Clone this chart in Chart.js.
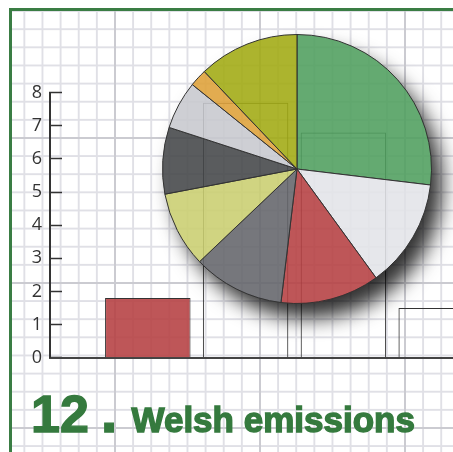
<!DOCTYPE html>
<html>
<head>
<meta charset="utf-8">
<script src="https://cdn.jsdelivr.net/npm/chart.js@4/dist/chart.umd.min.js"></script>
<style>
  html, body { margin: 0; padding: 0; width: 453px; height: 452px; overflow: hidden; background: #fff; }
  #grid {
    position: absolute; left: 12px; top: 11px; width: 441px; height: 441px;
    background-image:
      linear-gradient(to right, #cbcbd1 2px, transparent 2px),
      linear-gradient(to bottom, #cbcbd1 2px, transparent 2px),
      linear-gradient(to right, #e0e0e6 2px, transparent 2px),
      linear-gradient(to bottom, #e0e0e6 2px, transparent 2px);
    background-size: 145px 100%, 100% 145px, 18.125px 100%, 100% 18.125px;
    background-position: 102px 0, 0 126px, 11.4px 0, 0 17.25px;
  }
  #frame {
    position: absolute; left: 9px; top: 8px; width: 460px; height: 460px;
    border-left: 3px solid #3a7d44; border-top: 3px solid #3a7d44;
  }
  #bars { position: absolute; left: 0; top: 0; }
  #pie { position: absolute; left: 107px; top: -21px; }
  #title {
    position: absolute; left: 31px; top: 386px; display: flex; align-items: baseline;
    font-family: "Liberation Sans", Arial, sans-serif; font-weight: bold; color: #357a3e;
    line-height: 52px; white-space: nowrap; -webkit-text-stroke: 1.4px #357a3e;
  }
  #title .num { font-size: 52px; }
  #title .dot { font-size: 60px; margin-left: 12px; }
  #title .txt { font-size: 35px; margin-left: 14px; }
</style>
</head>
<body>
<div id="grid"></div>
<canvas id="bars" width="539" height="452"></canvas>
<canvas id="pie" width="380" height="380"></canvas>
<div id="title"><span class="num">12</span><span class="dot">.</span><span class="txt">Welsh emissions</span></div>
<div id="frame"></div>
<script>
// bar chart behind the pie
const barCategories = ["", "1", "2", "3", "4", ""];
const barValues = [null, 1.8, 7.7, 6.8, 1.5, null];
const barColors = ["transparent", "rgba(181,63,65,0.88)", "transparent", "transparent", "transparent", "transparent"];
const yTicks = [0, 1, 2, 3, 4, 5, 6, 7, 8];

// pie overlay
const pieLabels = ["Sector 1", "Sector 2", "Sector 3", "Sector 4", "Sector 5", "Sector 6", "Sector 7", "Sector 8", "Sector 9"];
const pieValues = [26.9, 13.1, 11.9, 11.0, 9.1, 8.0, 5.8, 2.1, 12.1];
const pieColors = [
  "rgba(79,158,93,0.88)",
  "rgba(227,228,232,0.88)",
  "rgba(181,63,65,0.88)",
  "rgba(99,100,106,0.88)",
  "rgba(202,206,111,0.88)",
  "rgba(67,69,72,0.88)",
  "rgba(199,200,206,0.88)",
  "rgba(222,161,56,0.88)",
  "rgba(161,170,17,0.88)",
];

new Chart(document.getElementById("bars"), {
  type: "bar",
  data: {
    labels: barCategories,
    datasets: [
      {
        data: barValues,
        backgroundColor: barColors,
        borderColor: "#333",
        borderWidth: 1,
        categoryPercentage: 1,
        barPercentage: 0.874,
      },
    ],
  },
  options: {
    responsive: false,
    animation: false,
    layout: { padding: { top: 92.7, bottom: 94.3, left: 0, right: 0 } },
    plugins: { legend: { display: false }, tooltip: { enabled: false } },
    scales: {
      x: {
        offset: false,
        ticks: { display: false },
        grid: { display: false, drawTicks: false },
        border: { display: true, color: "#444", width: 2 },
      },
      y: {
        min: 0,
        max: 8,
        afterBuildTicks: (scale) => {
          scale.ticks = yTicks.map((v) => ({ value: v }));
        },
        afterFit: (scale) => {
          scale.width = 50;
        },
        ticks: {
          padding: 20,
          color: "#333",
          font: { family: "Open Sans", size: 18 },
        },
        grid: {
          drawOnChartArea: false,
          tickLength: -12,
          tickColor: "#333",
          tickWidth: 1.5,
        },
        border: { display: true, color: "#333", width: 2 },
      },
    },
  },
});

// soft drop shadow outside the pie circle
const pieShadow = {
  id: "pieShadow",
  beforeDatasetsDraw(chart) {
    const arc = chart.getDatasetMeta(0).data[0];
    if (!arc) return;
    const { x, y, outerRadius } = arc;
    const ctx = chart.ctx;
    const far = 3000;
    ctx.save();
    ctx.beginPath();
    ctx.rect(0, 0, chart.width, chart.height);
    ctx.arc(x, y, outerRadius - 0.5, 0, Math.PI * 2);
    ctx.clip("evenodd");
    ctx.shadowColor = "rgba(0,0,0,0.8)";
    ctx.shadowBlur = 20;
    ctx.shadowOffsetX = far + 11;
    ctx.shadowOffsetY = 15;
    ctx.fillStyle = "#000";
    ctx.beginPath();
    ctx.arc(x - far, y, outerRadius, 0, Math.PI * 2);
    ctx.fill();
    ctx.restore();
  },
};

new Chart(document.getElementById("pie"), {
  type: "pie",
  data: {
    labels: pieLabels,
    datasets: [
      {
        data: pieValues,
        backgroundColor: pieColors,
        borderColor: "#333",
        borderWidth: 1,
      },
    ],
  },
  options: {
    responsive: false,
    animation: false,
    radius: 134.5,
    plugins: { legend: { display: false }, tooltip: { enabled: false } },
  },
  plugins: [pieShadow],
});
</script>
</body>
</html>
